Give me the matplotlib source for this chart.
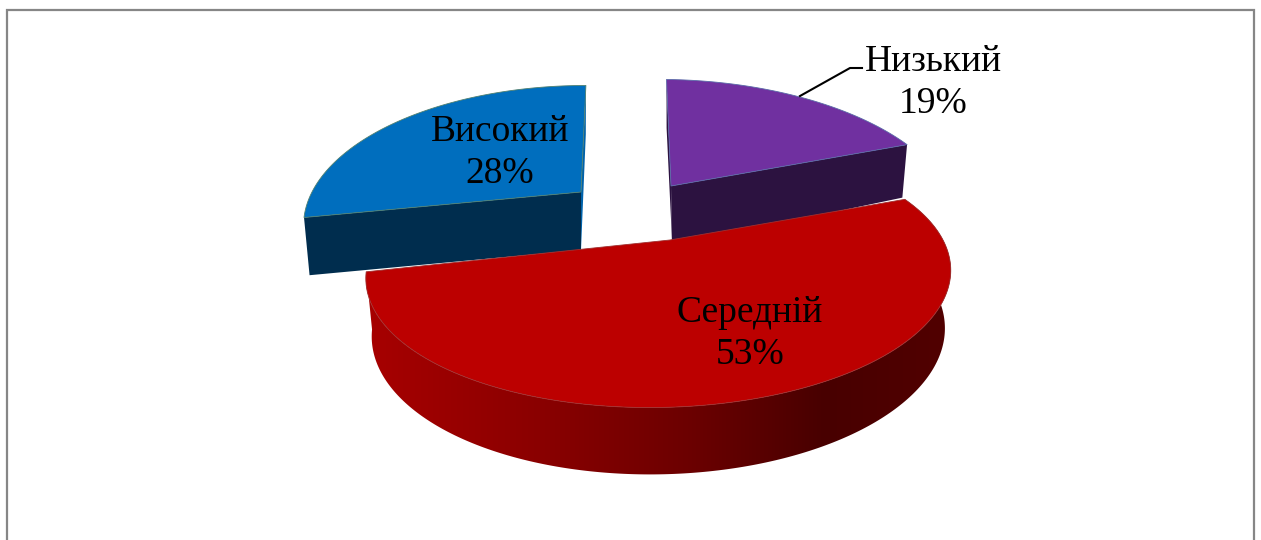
import numpy as np
import matplotlib
matplotlib.use('Agg')
import matplotlib.pyplot as plt
from matplotlib.colors import LinearSegmentedColormap
from matplotlib.patches import Polygon

categories = ['Низький', 'Середній', 'Високий']
shares = [19, 53, 28]

# top, radial wall, edge colours per slice
top_colors = ['#7030A0', '#BC0000', '#006EBE']
wall_colors = ['#2C1240', '#4A0000', '#002D4E']
sliver_colors = ['#2C1240', '#4A0000', '#0062AA']
edge_colors = ['#5A6AA8', '#A03030', '#4F8070']

# screen position of each slice: apex, then shift of its arc against the apex
apex = [(671, 186), (670, 240), (581, 192)]
arc_shift = [(0, 0), (-11, 4.5), (0, 0)]
arc_width = [277, 285, 269]
arc_depth = [130.4, 126.5, 130.4]
lean = [-5.5, 3, 6]
tilt = [3.5, -2.5, 0]

# projection of the pie plane
persp = 0.224
thick = 56
shrink = 0.98

# label centres
label_pos = [(933, 82.5), (750, 333.5), (500, 153)]

side_cmap = LinearSegmentedColormap.from_list(
    'side', [(0, '#A80000'), (0.3, '#8A0000'), (0.55, '#6C0000'), (0.78, '#480000'), (1, '#520000')])


def project(i, theta):
    # theta in radians, clockwise from the far side of the pie
    u, v = np.sin(theta), np.cos(theta)
    s = 1 / (1 + persp * v)
    x = apex[i][0] + arc_shift[i][0] + (arc_width[i] * u + lean[i] * v) * s
    y = apex[i][1] + arc_shift[i][1] - (arc_depth[i] * v - tilt[i] * u) * s
    return x, y


def lower(i, x, y, theta):
    # same point on the lower face of the pie
    s = 1 / (1 + persp * np.cos(theta))
    cx = apex[i][0] + arc_shift[i][0]
    return cx + (x - cx) * shrink, y + thick * s ** 0.7


fig = plt.figure(figsize=(12.61, 5.4), dpi=100)
ax = fig.add_axes([0, 0, 1, 1])

# chart frame, open at the bottom
ax.plot([6.5, 6.5, 1254, 1254], [540, 9.5, 9.5, 540], color='#868686', lw=1.6, solid_joinstyle='miter')

ends = np.cumsum(shares) / np.sum(shares) * 2 * np.pi
starts = np.r_[0, ends[:-1]]

# far slices first, the big front slice goes over them
for i in [0, 2, 1]:
    t = np.linspace(starts[i], ends[i], 240)
    x, y = project(i, t)
    xl, yl = lower(i, x, y, t)
    ax_, ay_ = apex[i]

    # radial walls
    if i == 0:
        ax.fill([ax_, x[0], xl[0], ax_ + 1], [ay_, y[0], yl[0], ay_ + 54], color=sliver_colors[i], lw=0, zorder=2)
        ax.fill([ax_, x[-1], xl[-1], ax_ + 1], [ay_, y[-1], yl[-1], ay_ + 60], color=wall_colors[i], lw=0, zorder=3)
    if i == 2:
        ax.fill([ax_, x[-1], xl[-1], ax_], [ay_, y[-1], yl[-1], ay_ + 58], color=sliver_colors[i], lw=0, zorder=2)
        ax.fill([ax_, x[0], xl[0], ax_], [ay_, y[0], yl[0], ay_ + 58], color=wall_colors[i], lw=0, zorder=3)

    # outer rim with its gradient, clipped to the rim outline
    if i == 1:
        rim = Polygon(np.c_[np.r_[x, xl[::-1]], np.r_[y, yl[::-1]]], closed=True, transform=ax.transData,
                      facecolor='none', edgecolor='none')
        ax.add_patch(rim)
        grad = np.linspace(0, 1, 256)[None, :]
        img = ax.imshow(grad, cmap=side_cmap, aspect='auto', extent=(x.min() - 5, x.max() + 5, yl.max() + 5, y.min() - 5),
                        zorder=4)
        img.set_clip_path(rim)

    ax.fill(np.r_[ax_, x], np.r_[ay_, y], facecolor=top_colors[i], edgecolor=edge_colors[i], lw=0.6,
            joinstyle='round', zorder=5)

# leader line of the first label
ax.plot([800, 850, 862], [96, 68, 68], color='black', lw=1.5, zorder=6)

for i, name in enumerate(categories):
    ax.text(label_pos[i][0], label_pos[i][1], '%s\n%d%%' % (name, shares[i]), ha='center', va='center',
            family='Liberation Serif', fontsize=27, linespacing=1.27, color='black', zorder=7)

ax.set_xlim(0, 1261)
ax.set_ylim(540, 0)
ax.axis('off')

fig.savefig('out.png', dpi=100)
